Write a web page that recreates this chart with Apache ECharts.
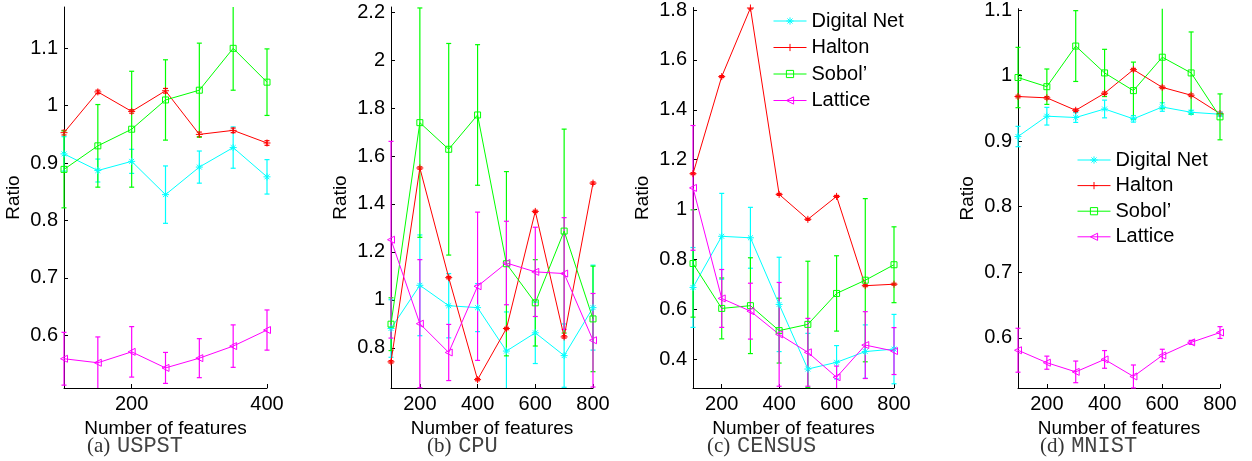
<!DOCTYPE html>
<html>
<head>
<meta charset="utf-8">
<script src="https://cdn.jsdelivr.net/npm/echarts@6/dist/echarts.min.js"></script>
<style>
  html, body { margin: 0; padding: 0; background: #fff; }
  #chart { width: 1252px; height: 461px; }
</style>
</head>
<body>
<div id="chart"></div>
<script>
// x values (number of features)
var featuresUspst = [100, 150, 200, 250, 300, 350, 400];
var featuresOther = [100, 200, 300, 400, 500, 600, 700, 800];

// tick labels
var xTicksUspst = [200, 400];
var xTicksOther = [200, 400, 600, 800];
var yTicksUspst = [0.6, 0.7, 0.8, 0.9, 1, 1.1];
var yTicksCpu = [0.8, 1, 1.2, 1.4, 1.6, 1.8, 2, 2.2];
var yTicksCensus = [0.4, 0.6, 0.8, 1, 1.2, 1.4, 1.6, 1.8];
var yTicksMnist = [0.6, 0.7, 0.8, 0.9, 1, 1.1];

var methods = ['Digital Net', 'Halton', 'Sobol\u2019', 'Lattice'];

// (a) USPST : mean ratio and error bar half-length
var uspstDigital = [0.916, 0.887, 0.903, 0.845, 0.893, 0.927, 0.876];
var uspstDigitalErr = [0.03, 0.02, 0.021, 0.05, 0.028, 0.036, 0.03];
var uspstHalton = [0.953, 1.024, 0.990, 1.026, 0.950, 0.957, 0.935];
var uspstHaltonErr = [0.004, 0.003, 0.003, 0.004, 0.004, 0.004, 0.004];
var uspstSobol = [0.889, 0.930, 0.959, 1.010, 1.027, 1.100, 1.041];
var uspstSobolErr = [0.067, 0.072, 0.101, 0.07, 0.082, 0.073, 0.058];
var uspstLattice = [0.559, 0.552, 0.571, 0.543, 0.560, 0.581, 0.609];
var uspstLatticeErr = [0.046, 0.045, 0.044, 0.027, 0.034, 0.037, 0.035];

// (b) CPU
var cpuDigital = [0.881, 1.061, 0.976, 0.968, 0.787, 0.863, 0.768, 0.968];
var cpuDigitalErr = [0.12, 0.21, 0.134, 0.1, 0.163, 0.128, 0.132, 0.177];
var cpuHalton = [0.742, 1.55, 1.093, 0.668, 0.881, 1.369, 0.846, 1.487];
var cpuHaltonErr = [0.005, 0.005, 0.005, 0.005, 0.005, 0.005, 0.005, 0.005];
var cpuSobol = [0.899, 1.739, 1.628, 1.771, 1.151, 0.988, 1.287, 0.921];
var cpuSobolErr = [0.11, 0.478, 0.441, 0.293, 0.384, 0.18, 0.425, 0.22];
var cpuLattice = [1.251, 0.901, 0.781, 1.057, 1.154, 1.117, 1.110, 0.832];
var cpuLatticeErr = [0.41, 0.267, 0.117, 0.309, 0.174, 0.186, 0.233, 0.195];

// (c) CENSUS
var censusDigital = [0.688, 0.893, 0.887, 0.62, 0.361, 0.388, 0.431, 0.441];
var censusDigitalErr = [0.16, 0.172, 0.122, 0.189, 0.143, 0.067, 0.107, 0.139];
var censusHalton = [1.144, 1.533, 1.808, 1.061, 0.961, 1.053, 0.695, 0.701];
var censusHaltonErr = [0.004, 0.004, 0.004, 0.004, 0.004, 0.004, 0.004, 0.004];
var censusSobol = [0.784, 0.604, 0.615, 0.515, 0.54, 0.664, 0.717, 0.779];
var censusSobolErr = [0.215, 0.122, 0.192, 0.13, 0.253, 0.151, 0.327, 0.152];
var censusLattice = [1.087, 0.644, 0.593, 0.5, 0.428, 0.328, 0.457, 0.433];
var censusLatticeErr = [0.25, 0.116, 0.112, 0.208, 0.136, 0.045, 0.134, 0.094];

// (d) MNIST
var mnistDigital = [0.907, 0.938, 0.936, 0.949, 0.934, 0.952, 0.944, 0.941];
var mnistDigitalErr = [0.0155, 0.0135, 0.0075, 0.0135, 0.005, 0.0065, 0.003, 0.003];
var mnistHalton = [0.968, 0.966, 0.947, 0.973, 1.009, 0.982, 0.970, 0.942];
var mnistHaltonErr = [0.002, 0.002, 0.002, 0.002, 0.002, 0.002, 0.002, 0.002];
var mnistSobol = [0.997, 0.983, 1.045, 1.004, 0.977, 1.028, 1.004, 0.937];
var mnistSobolErr = [0.046, 0.027, 0.054, 0.036, 0.0435, 0.0785, 0.0625, 0.035];
var mnistLattice = [0.581, 0.562, 0.548, 0.567, 0.541, 0.573, 0.593, 0.608];
var mnistLatticeErr = [0.0335, 0.01, 0.0165, 0.0135, 0.0175, 0.0095, 0.003, 0.009];

var colors = ['#00ffff', '#ff0000', '#00ff00', '#ff00ff'];
var symbols = [
    'path://M5,0L5,10M0,5L10,5M1.5,1.5L8.5,8.5M1.5,8.5L8.5,1.5',
    'path://M5,0L5,10M0,5L10,5',
    'path://M0,0L10,0L10,10L0,10Z',
    'path://M0,5L10,0L10,10Z'
];
var symbolSizes = [7, 7, 6, 7];

var font = 'Liberation Sans, Arial, sans-serif';

var panels = [
    { x: featuresUspst, xMax: 400, xTicks: xTicksUspst, yMin: 0.508, yMax: 1.172, yTicks: yTicksUspst,
      left: 64, width: 203, label: '(a)', name: 'USPST', capX: 87,
      means: [uspstDigital, uspstHalton, uspstSobol, uspstLattice],
      errs: [uspstDigitalErr, uspstHaltonErr, uspstSobolErr, uspstLatticeErr] },
    { x: featuresOther, xMax: 800, xTicks: xTicksOther, yMin: 0.633, yMax: 2.221, yTicks: yTicksCpu,
      left: 391, width: 202, label: '(b)', name: 'CPU', capX: 427,
      means: [cpuDigital, cpuHalton, cpuSobol, cpuLattice],
      errs: [cpuDigitalErr, cpuHaltonErr, cpuSobolErr, cpuLatticeErr] },
    { x: featuresOther, xMax: 800, xTicks: xTicksOther, yMin: 0.285, yMax: 1.81, yTicks: yTicksCensus,
      left: 693, width: 201, label: '(c)', name: 'CENSUS', capX: 707,
      means: [censusDigital, censusHalton, censusSobol, censusLattice],
      errs: [censusDigitalErr, censusHaltonErr, censusSobolErr, censusLatticeErr] },
    { x: featuresOther, xMax: 800, xTicks: xTicksOther, yMin: 0.5234, yMax: 1.102, yTicks: yTicksMnist,
      left: 1018, width: 202, label: '(d)', name: 'MNIST', capX: 1040,
      means: [mnistDigital, mnistHalton, mnistSobol, mnistLattice],
      errs: [mnistDigitalErr, mnistHaltonErr, mnistSobolErr, mnistLatticeErr] }
];

function renderErrorBar(params, api) {
    var cs = params.coordSys;
    var x = api.value(0);
    var pLo = api.coord([x, api.value(1)]);
    var pHi = api.coord([x, api.value(2)]);
    var top = cs.y, bottom = cs.y + cs.height;
    var yLo = Math.min(pLo[1], bottom);
    var yHi = Math.max(pHi[1], top);
    var px = pLo[0];
    var st = { stroke: api.visual('color'), lineWidth: 1.2 };
    var kids = [{ type: 'line', shape: { x1: px, y1: yLo, x2: px, y2: yHi }, style: st }];
    if (pLo[1] <= bottom) kids.push({ type: 'line', shape: { x1: px - 2.5, y1: yLo, x2: px + 2.5, y2: yLo }, style: st });
    if (pHi[1] >= top) kids.push({ type: 'line', shape: { x1: px - 2.5, y1: yHi, x2: px + 2.5, y2: yHi }, style: st });
    return { type: 'group', children: kids };
}

var grids = [], xAxes = [], yAxes = [], series = [], graphics = [];

panels.forEach(function (p, i) {
    grids.push({ left: p.left, top: 7, width: p.width, height: 381 });
    xAxes.push({
        type: 'value', gridIndex: i, min: 100, max: p.xMax,
        name: 'Number of features', nameLocation: 'middle', nameGap: 27,
        nameTextStyle: { fontSize: 19, color: '#000', fontFamily: font },
        axisLine: { lineStyle: { color: '#000', width: 1 } },
        axisTick: { inside: true, length: 4, customValues: p.xTicks, lineStyle: { color: '#000' } },
        axisLabel: { customValues: p.xTicks, fontSize: 20, color: '#000', fontFamily: font, margin: 6 },
        splitLine: { show: false }
    });
    yAxes.push({
        type: 'value', gridIndex: i, min: p.yMin, max: p.yMax,
        name: 'Ratio', nameLocation: 'middle', nameGap: 41,
        nameTextStyle: { fontSize: 19, color: '#000', fontFamily: font },
        axisLine: { show: true, lineStyle: { color: '#000', width: 1 } },
        axisTick: { show: true, inside: true, length: 4, customValues: p.yTicks, lineStyle: { color: '#000' } },
        axisLabel: { customValues: p.yTicks, fontSize: 20, color: '#000', fontFamily: font, margin: 6 },
        splitLine: { show: false }
    });
    methods.forEach(function (m, k) {
        var errData = p.x.map(function (xv, j) {
            return [xv, p.means[k][j] - p.errs[k][j], p.means[k][j] + p.errs[k][j]];
        });
        series.push({
            type: 'custom', name: m + ' err', xAxisIndex: i, yAxisIndex: i,
            itemStyle: { color: colors[k] }, renderItem: renderErrorBar,
            data: errData, silent: true
        });
        series.push({
            type: 'line', name: m, xAxisIndex: i, yAxisIndex: i,
            data: p.x.map(function (xv, j) { return [xv, p.means[k][j]]; }),
            symbol: symbols[k], symbolSize: symbolSizes[k], showSymbol: true,
            lineStyle: { color: colors[k], width: 1 },
            itemStyle: { color: 'transparent', borderColor: colors[k], borderWidth: 1 },
            emphasis: { disabled: true }
        });
    });
    graphics.push({
        type: 'text', left: p.capX, top: 435,
        style: {
            text: '{s|' + p.label + '}  {m|' + p.name + '}',
            rich: {
                s: { fontFamily: 'Liberation Serif, Times New Roman, serif', fontSize: 21, fill: '#333' },
                m: { fontFamily: 'Liberation Mono, Courier New, monospace', fontSize: 22, fill: '#444' }
            }
        }
    });
});

function legendAt(left, top, gap) {
    return {
        data: methods, orient: 'vertical', left: left, top: top, padding: 0,
        itemWidth: 33, itemHeight: 9, itemGap: gap, selectedMode: false,
        textStyle: { fontSize: 20, color: '#000', fontFamily: font },
        lineStyle: { width: 1 },
        itemStyle: { borderWidth: 1 }
    };
}

var chart = echarts.init(document.getElementById('chart'));
chart.setOption({
    animation: false,
    backgroundColor: '#fff',
    grid: grids,
    xAxis: xAxes,
    yAxis: yAxes,
    legend: [legendAt(773, 11, 6.5), legendAt(1077, 150, 5.6)],
    graphic: graphics,
    series: series
});
</script>
</body>
</html>
